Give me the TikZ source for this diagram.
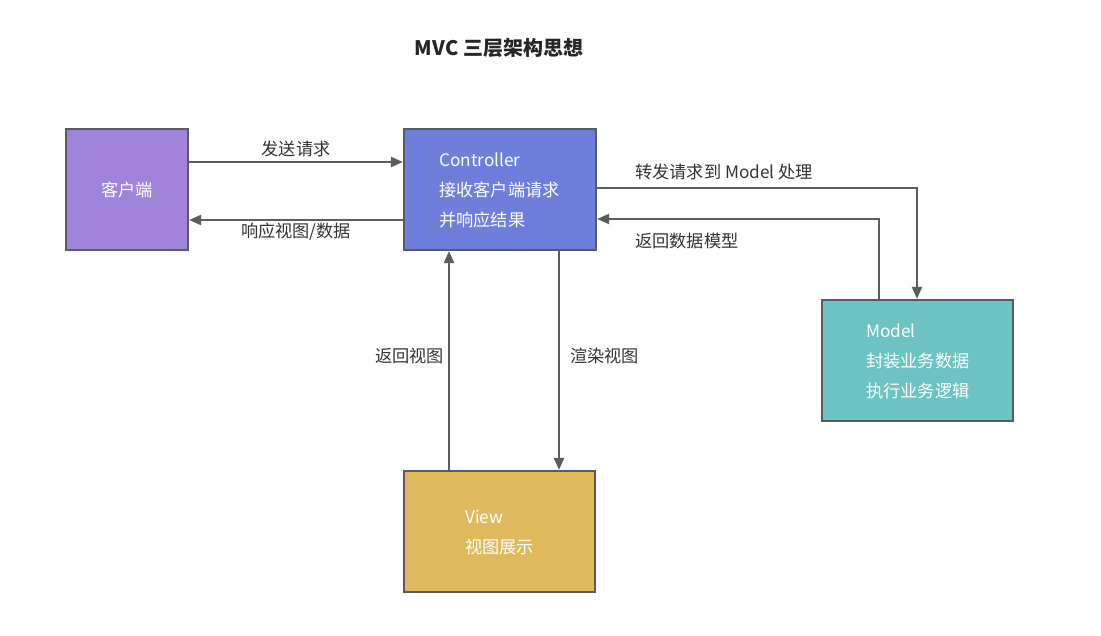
\documentclass[tikz,border=0pt]{standalone}
\usepackage{fontspec}
\setmainfont{Noto Sans CJK SC}
\usetikzlibrary{arrows.meta}
\definecolor{boxedge}{HTML}{595A62}
\definecolor{lineclr}{HTML}{5C5C5C}
\definecolor{txtclr}{HTML}{333333}
\definecolor{cpurple}{HTML}{A084DC}
\definecolor{cblue}{HTML}{6D7FDB}
\definecolor{cteal}{HTML}{6CC3C4}
\definecolor{cgold}{HTML}{E0B95C}
\begin{document}
\begin{tikzpicture}[x=1pt,y=-1pt,
  boxnode/.style={draw=boxedge, line width=2.2pt, inner sep=0pt, text=white,
    font=\fontsize{17.2}{30}\selectfont},
  boxtext/.style={text=white, inner sep=0pt, anchor=west, align=left,
    font=\fontsize{17.2}{30}\selectfont},
  lbl/.style={text=txtclr, inner sep=0pt, font=\fontsize{17.2}{20}\selectfont},
  arr/.style={draw=lineclr, line width=2.2pt, -{Triangle[length=12pt,width=10pt]}}
]
\useasboundingbox (0,0) rectangle (1101,636);

\node[text=black!85, font=\fontsize{20}{24}\selectfont\bfseries] (title) at (499,48) {MVC 三层架构思想};

\node[boxnode, fill=cpurple, minimum width=122pt, minimum height=121pt] (client) at (127,189.5) {客户端};
\node[boxnode, fill=cblue, minimum width=192pt, minimum height=121pt] (ctrl) at (500,189.5) {};
\node[boxnode, fill=cteal, minimum width=191pt, minimum height=121pt] (model) at (917.5,360.5) {};
\node[boxnode, fill=cgold, minimum width=191pt, minimum height=121pt] (view) at (499.5,531.5) {};

\node[boxtext] (ctrltext) at (439,190) {Controller\\接收客户端请求\\并响应结果};
\node[boxtext] (modeltext) at (866,361) {Model\\封装业务数据\\执行业务逻辑};
\node[boxtext] (viewtext) at (465,533) {View\\视图展示};

\coordinate (ya) at (0,162);
\coordinate (yb) at (0,220);
\coordinate (yc) at (0,188);
\coordinate (yd) at (0,219);
\coordinate (xa) at (917,0);
\coordinate (xb) at (879,0);
\coordinate (xc) at (449,0);
\coordinate (xd) at (559,0);

\draw[arr] (client.east |- ya) -- (ctrl.west |- ya);
\draw[arr] (ctrl.west |- yb) -- (client.east |- yb);
\draw[arr] (ctrl.east |- yc) -| (model.north -| xa);
\draw[arr] (model.north -| xb) |- (ctrl.east |- yd);
\draw[arr] (view.north -| xc) -- (ctrl.south -| xc);
\draw[arr] (ctrl.south -| xd) -- (view.north -| xd);

\node[lbl] (l1) at (296,149) {发送请求};
\node[lbl] (l2) at (296,232) {响应视图/数据};
\node[lbl, anchor=west] (l3) at (635,172) {转发请求到 Model 处理};
\node[lbl, anchor=west] (l4) at (635,241) {返回数据模型};
\node[lbl, anchor=east] (l5) at (444,356) {返回视图};
\node[lbl, anchor=west] (l6) at (570,356) {渲染视图};
\end{tikzpicture}
\end{document}
